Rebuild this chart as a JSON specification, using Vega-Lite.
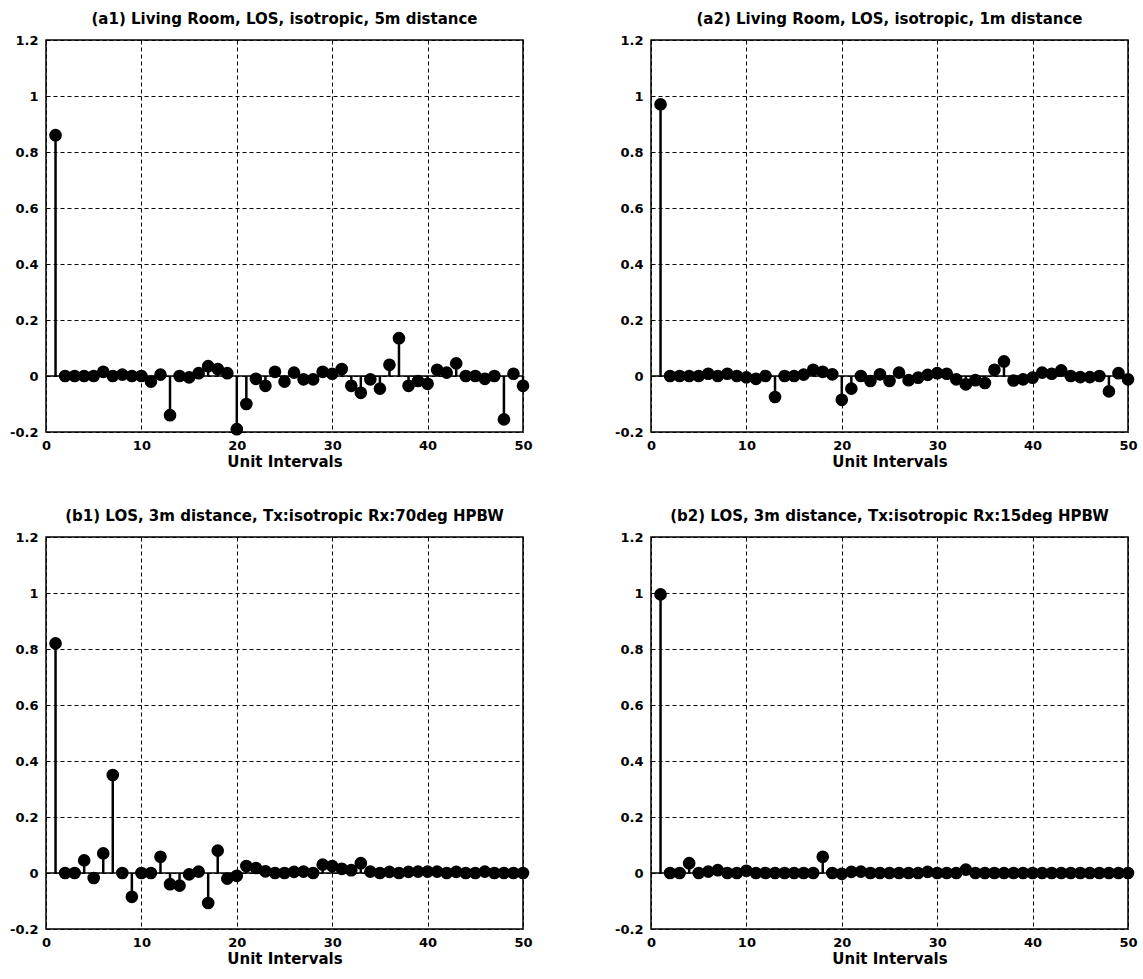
{
  "$schema": "https://vega.github.io/schema/vega-lite/v6.json",
  "background": "white",
  "padding": {"left": 8, "top": 11, "right": 5, "bottom": 5},
  "bounds": "flush",
  "columns": 2,
  "spacing": {"row": 105, "column": 128},
  "datasets": {
    "a1": [
      {"k":1,"v":0.86},{"k":2,"v":0},{"k":3,"v":0},{"k":4,"v":0},{"k":5,"v":0},
      {"k":6,"v":0.015},{"k":7,"v":0},{"k":8,"v":0.005},{"k":9,"v":0},{"k":10,"v":0},
      {"k":11,"v":-0.02},{"k":12,"v":0.005},{"k":13,"v":-0.14},{"k":14,"v":0},{"k":15,"v":-0.005},
      {"k":16,"v":0.01},{"k":17,"v":0.035},{"k":18,"v":0.025},{"k":19,"v":0.01},{"k":20,"v":-0.19},
      {"k":21,"v":-0.1},{"k":22,"v":-0.01},{"k":23,"v":-0.035},{"k":24,"v":0.015},{"k":25,"v":-0.02},
      {"k":26,"v":0.012},{"k":27,"v":-0.012},{"k":28,"v":-0.012},{"k":29,"v":0.015},{"k":30,"v":0.008},
      {"k":31,"v":0.025},{"k":32,"v":-0.035},{"k":33,"v":-0.06},{"k":34,"v":-0.012},{"k":35,"v":-0.045},
      {"k":36,"v":0.04},{"k":37,"v":0.135},{"k":38,"v":-0.035},{"k":39,"v":-0.018},{"k":40,"v":-0.028},
      {"k":41,"v":0.022},{"k":42,"v":0.012},{"k":43,"v":0.045},{"k":44,"v":0},{"k":45,"v":0},
      {"k":46,"v":-0.01},{"k":47,"v":0},{"k":48,"v":-0.155},{"k":49,"v":0.008},{"k":50,"v":-0.035}
    ],
    "a2": [
      {"k":1,"v":0.97},{"k":2,"v":0},{"k":3,"v":0},{"k":4,"v":0},{"k":5,"v":0},
      {"k":6,"v":0.008},{"k":7,"v":0},{"k":8,"v":0.008},{"k":9,"v":0},{"k":10,"v":-0.005},
      {"k":11,"v":-0.01},{"k":12,"v":0},{"k":13,"v":-0.075},{"k":14,"v":0},{"k":15,"v":0},
      {"k":16,"v":0.005},{"k":17,"v":0.022},{"k":18,"v":0.015},{"k":19,"v":0.006},{"k":20,"v":-0.085},
      {"k":21,"v":-0.045},{"k":22,"v":0},{"k":23,"v":-0.018},{"k":24,"v":0.006},{"k":25,"v":-0.018},
      {"k":26,"v":0.012},{"k":27,"v":-0.015},{"k":28,"v":-0.006},{"k":29,"v":0.004},{"k":30,"v":0.01},
      {"k":31,"v":0.008},{"k":32,"v":-0.012},{"k":33,"v":-0.03},{"k":34,"v":-0.015},{"k":35,"v":-0.025},
      {"k":36,"v":0.022},{"k":37,"v":0.052},{"k":38,"v":-0.016},{"k":39,"v":-0.012},{"k":40,"v":-0.006},
      {"k":41,"v":0.012},{"k":42,"v":0.008},{"k":43,"v":0.02},{"k":44,"v":0},{"k":45,"v":-0.004},
      {"k":46,"v":-0.004},{"k":47,"v":0},{"k":48,"v":-0.055},{"k":49,"v":0.01},{"k":50,"v":-0.012}
    ],
    "b1": [
      {"k":1,"v":0.82},{"k":2,"v":0},{"k":3,"v":0},{"k":4,"v":0.045},{"k":5,"v":-0.018},
      {"k":6,"v":0.07},{"k":7,"v":0.35},{"k":8,"v":0},{"k":9,"v":-0.085},{"k":10,"v":0},
      {"k":11,"v":0},{"k":12,"v":0.058},{"k":13,"v":-0.04},{"k":14,"v":-0.045},{"k":15,"v":-0.005},
      {"k":16,"v":0.005},{"k":17,"v":-0.107},{"k":18,"v":0.08},{"k":19,"v":-0.02},{"k":20,"v":-0.01},
      {"k":21,"v":0.025},{"k":22,"v":0.018},{"k":23,"v":0.006},{"k":24,"v":0},{"k":25,"v":0},
      {"k":26,"v":0.004},{"k":27,"v":0.005},{"k":28,"v":0},{"k":29,"v":0.03},{"k":30,"v":0.025},
      {"k":31,"v":0.015},{"k":32,"v":0.01},{"k":33,"v":0.035},{"k":34,"v":0.005},{"k":35,"v":0},
      {"k":36,"v":0.004},{"k":37,"v":0},{"k":38,"v":0.004},{"k":39,"v":0.005},{"k":40,"v":0.005},
      {"k":41,"v":0.005},{"k":42,"v":0},{"k":43,"v":0.004},{"k":44,"v":0},{"k":45,"v":0},
      {"k":46,"v":0.005},{"k":47,"v":0},{"k":48,"v":0},{"k":49,"v":0},{"k":50,"v":0}
    ],
    "b2": [
      {"k":1,"v":0.995},{"k":2,"v":0},{"k":3,"v":0},{"k":4,"v":0.035},{"k":5,"v":0},
      {"k":6,"v":0.005},{"k":7,"v":0.01},{"k":8,"v":0},{"k":9,"v":0},{"k":10,"v":0.008},
      {"k":11,"v":0},{"k":12,"v":0},{"k":13,"v":0},{"k":14,"v":0},{"k":15,"v":0},
      {"k":16,"v":0},{"k":17,"v":0},{"k":18,"v":0.058},{"k":19,"v":0},{"k":20,"v":-0.003},
      {"k":21,"v":0.004},{"k":22,"v":0.005},{"k":23,"v":0},{"k":24,"v":0},{"k":25,"v":0},
      {"k":26,"v":0},{"k":27,"v":0},{"k":28,"v":0},{"k":29,"v":0.004},{"k":30,"v":0},
      {"k":31,"v":0},{"k":32,"v":0},{"k":33,"v":0.012},{"k":34,"v":0},{"k":35,"v":0},
      {"k":36,"v":0},{"k":37,"v":0},{"k":38,"v":0},{"k":39,"v":0},{"k":40,"v":0},
      {"k":41,"v":0},{"k":42,"v":0},{"k":43,"v":0},{"k":44,"v":0},{"k":45,"v":0},
      {"k":46,"v":0},{"k":47,"v":0},{"k":48,"v":0},{"k":49,"v":0},{"k":50,"v":0}
    ]
  },
  "concat": [
    {
      "width": 477, "height": 392,
      "title": "(a1) Living Room, LOS, isotropic, 5m distance",
      "layer": [
        {"data": {"values": [{}]}, "mark": {"type": "rule", "color": "black", "strokeWidth": 1.5},
         "encoding": {"y": {"datum": 0, "type": "quantitative", "scale": {"domain": [-0.2, 1.2], "nice": false, "zero": false}}}},
        {"data": {"name": "a1"}, "mark": {"type": "rule", "color": "black", "strokeWidth": 2.5},
         "encoding": {
           "x": {"field": "k", "type": "quantitative", "scale": {"domain": [0, 50], "nice": false, "zero": false},
                 "axis": {"values": [0,10,20,30,40,50], "title": "Unit Intervals"}},
           "y": {"field": "v", "type": "quantitative", "scale": {"domain": [-0.2, 1.2], "nice": false, "zero": false},
                 "axis": {"values": [-0.2,0,0.2,0.4,0.6,0.8,1,1.2], "title": null, "labelExpr": "toString(round(datum.value*10)/10)"}},
           "y2": {"datum": 0}}},
        {"data": {"name": "a1"}, "mark": {"type": "point", "shape": "circle", "filled": true, "color": "black", "opacity": 1, "size": 160},
         "encoding": {"x": {"field": "k", "type": "quantitative"}, "y": {"field": "v", "type": "quantitative"}}}
      ]
    },
    {
      "width": 477, "height": 392,
      "title": "(a2) Living Room, LOS, isotropic, 1m distance",
      "layer": [
        {"data": {"values": [{}]}, "mark": {"type": "rule", "color": "black", "strokeWidth": 1.5},
         "encoding": {"y": {"datum": 0, "type": "quantitative", "scale": {"domain": [-0.2, 1.2], "nice": false, "zero": false}}}},
        {"data": {"name": "a2"}, "mark": {"type": "rule", "color": "black", "strokeWidth": 2.5},
         "encoding": {
           "x": {"field": "k", "type": "quantitative", "scale": {"domain": [0, 50], "nice": false, "zero": false},
                 "axis": {"values": [0,10,20,30,40,50], "title": "Unit Intervals"}},
           "y": {"field": "v", "type": "quantitative", "scale": {"domain": [-0.2, 1.2], "nice": false, "zero": false},
                 "axis": {"values": [-0.2,0,0.2,0.4,0.6,0.8,1,1.2], "title": null, "labelExpr": "toString(round(datum.value*10)/10)"}},
           "y2": {"datum": 0}}},
        {"data": {"name": "a2"}, "mark": {"type": "point", "shape": "circle", "filled": true, "color": "black", "opacity": 1, "size": 160},
         "encoding": {"x": {"field": "k", "type": "quantitative"}, "y": {"field": "v", "type": "quantitative"}}}
      ]
    },
    {
      "width": 477, "height": 392,
      "title": "(b1) LOS, 3m distance, Tx:isotropic Rx:70deg HPBW",
      "layer": [
        {"data": {"values": [{}]}, "mark": {"type": "rule", "color": "black", "strokeWidth": 1.5},
         "encoding": {"y": {"datum": 0, "type": "quantitative", "scale": {"domain": [-0.2, 1.2], "nice": false, "zero": false}}}},
        {"data": {"name": "b1"}, "mark": {"type": "rule", "color": "black", "strokeWidth": 2.5},
         "encoding": {
           "x": {"field": "k", "type": "quantitative", "scale": {"domain": [0, 50], "nice": false, "zero": false},
                 "axis": {"values": [0,10,20,30,40,50], "title": "Unit Intervals"}},
           "y": {"field": "v", "type": "quantitative", "scale": {"domain": [-0.2, 1.2], "nice": false, "zero": false},
                 "axis": {"values": [-0.2,0,0.2,0.4,0.6,0.8,1,1.2], "title": null, "labelExpr": "toString(round(datum.value*10)/10)"}},
           "y2": {"datum": 0}}},
        {"data": {"name": "b1"}, "mark": {"type": "point", "shape": "circle", "filled": true, "color": "black", "opacity": 1, "size": 160},
         "encoding": {"x": {"field": "k", "type": "quantitative"}, "y": {"field": "v", "type": "quantitative"}}}
      ]
    },
    {
      "width": 477, "height": 392,
      "title": "(b2) LOS, 3m distance, Tx:isotropic Rx:15deg HPBW",
      "layer": [
        {"data": {"values": [{}]}, "mark": {"type": "rule", "color": "black", "strokeWidth": 1.5},
         "encoding": {"y": {"datum": 0, "type": "quantitative", "scale": {"domain": [-0.2, 1.2], "nice": false, "zero": false}}}},
        {"data": {"name": "b2"}, "mark": {"type": "rule", "color": "black", "strokeWidth": 2.5},
         "encoding": {
           "x": {"field": "k", "type": "quantitative", "scale": {"domain": [0, 50], "nice": false, "zero": false},
                 "axis": {"values": [0,10,20,30,40,50], "title": "Unit Intervals"}},
           "y": {"field": "v", "type": "quantitative", "scale": {"domain": [-0.2, 1.2], "nice": false, "zero": false},
                 "axis": {"values": [-0.2,0,0.2,0.4,0.6,0.8,1,1.2], "title": null, "labelExpr": "toString(round(datum.value*10)/10)"}},
           "y2": {"datum": 0}}},
        {"data": {"name": "b2"}, "mark": {"type": "point", "shape": "circle", "filled": true, "color": "black", "opacity": 1, "size": 160},
         "encoding": {"x": {"field": "k", "type": "quantitative"}, "y": {"field": "v", "type": "quantitative"}}}
      ]
    }
  ],
  "config": {
    "font": "DejaVu Sans",
    "view": {"stroke": "black", "strokeWidth": 1.5},
    "axis": {
      "grid": true, "gridColor": "black", "gridDash": [4, 3], "gridWidth": 1, "gridOpacity": 1,
      "domain": false, "ticks": false,
      "labelFont": "DejaVu Sans", "labelFontWeight": "bold", "labelFontSize": 13, "labelColor": "black",
      "labelPadding": 8, "labelOverlap": false, "labelBound": false,
      "titleFont": "DejaVu Sans", "titleFontWeight": "bold", "titleFontSize": 15, "titleColor": "black", "titlePadding": 2
    },
    "axisX": {"labelFlush": false, "labelPadding": 7},
    "title": {"font": "DejaVu Sans", "fontWeight": "bold", "fontSize": 15, "color": "black", "offset": 7, "anchor": "middle"}
  }
}
